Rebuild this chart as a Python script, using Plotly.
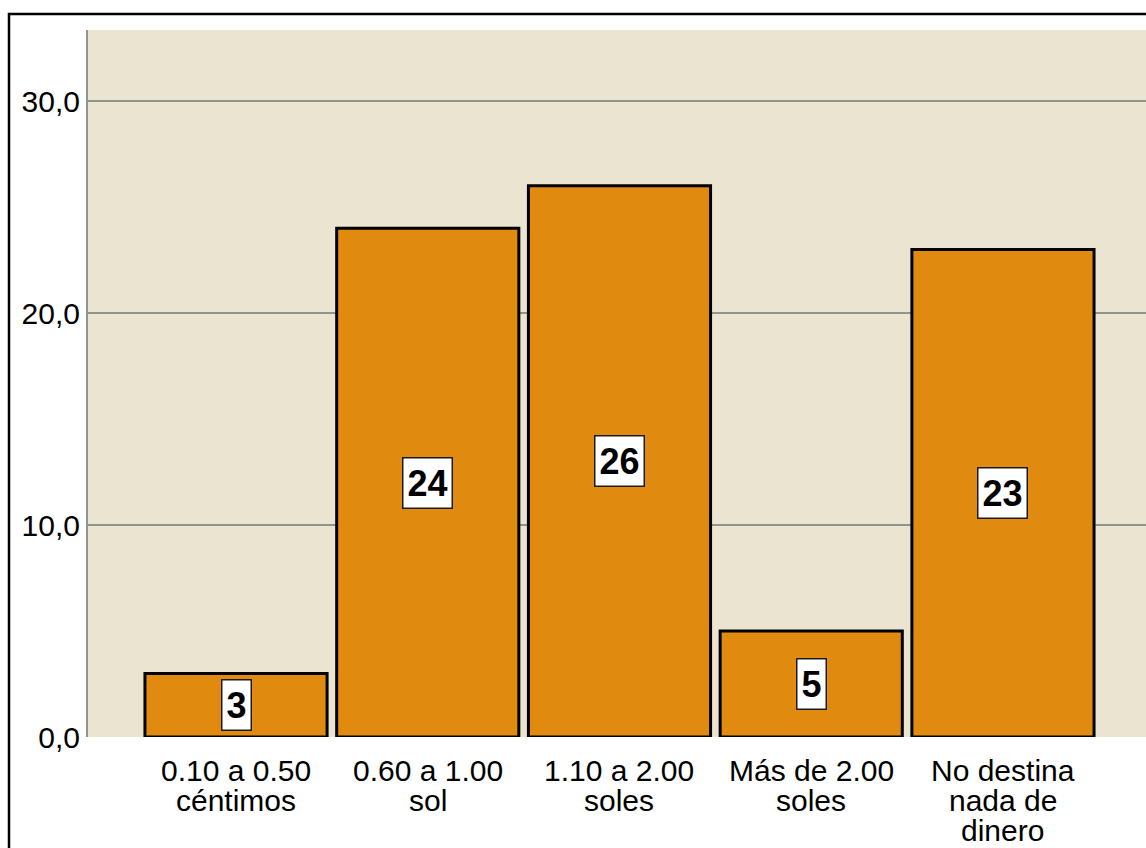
import plotly.graph_objects as go

# Money set aside categories and their percentages
categories = ["0.10 a 0.50 céntimos", "0.60 a 1.00 sol", "1.10 a 2.00 soles",
              "Más de 2.00 soles", "No destina nada de dinero"]
label_lines = [["0.10 a 0.50", "céntimos"], ["0.60 a 1.00", "sol"],
               ["1.10 a 2.00", "soles"], ["Más de 2.00", "soles"],
               ["No destina", "nada de", "dinero"]]
values = [3, 24, 26, 5, 23]
y_ticks = [0, 10, 20, 30]
y_ticktext = ["0,0", "10,0", "20,0", "30,0"]

W, H = 1146, 848
ML, MR, MT, MB = 88, 0, 30, 111

BAR = "#E08A10"
PLOT_BG = "#EAE4D0"
GRID = "#8E968C"

x_idx = list(range(len(categories)))

fig = go.Figure()
fig.add_trace(go.Bar(
    x=x_idx, y=values, width=0.95,
    marker=dict(color=BAR, line=dict(color="#000000", width=3)),
    hoverinfo="skip",
))

annotations = []
# value labels in white boxes at mid-height of each bar
for xi, v in zip(x_idx, values):
    annotations.append(dict(
        x=xi, y=v / 2, xref="x", yref="y", text=f"<b>{v}</b>", showarrow=False,
        font=dict(family="Liberation Sans Narrow, Arial Narrow, Liberation Sans, Arial",
                  size=36, color="#000000"),
        bgcolor="#FFFFFF", bordercolor="#1A1A1A", borderwidth=1.5, borderpad=4,
        xanchor="center", yanchor="middle",
    ))
# multi-line category labels with tight line spacing
for xi, lines in zip(x_idx, label_lines):
    for i, line in enumerate(lines):
        annotations.append(dict(
            x=xi, y=0, xref="x", yref="paper", text=line, showarrow=False,
            font=dict(family="Liberation Sans, Arial", size=30, color="#000000"),
            xanchor="center", yanchor="middle", yshift=-(33 + 30 * i),
        ))

plot_w = W - ML - MR
plot_h = H - MT - MB
fx = lambda px: (px - ML) / plot_w
fy = lambda py: (H - MB - py) / plot_h

fig.update_layout(
    width=W, height=H,
    margin=dict(l=ML, r=MR, t=MT, b=MB, pad=0),
    paper_bgcolor="#FFFFFF", plot_bgcolor=PLOT_BG,
    showlegend=False,
    bargap=0.05,
    annotations=annotations,
    shapes=[
        # outer frame
        dict(type="rect", xref="paper", yref="paper",
             x0=fx(9), x1=fx(1200), y0=fy(900), y1=fy(14),
             line=dict(color="#000000", width=2.5), layer="above"),
    ],
    xaxis=dict(
        range=[-0.772, 4.746], showticklabels=False, showgrid=False,
        zeroline=False, ticks="", showline=False, fixedrange=True,
    ),
    yaxis=dict(
        range=[0, 33.35], tickvals=y_ticks, ticktext=y_ticktext,
        tickfont=dict(family="Liberation Sans, Arial", size=30, color="#000000"),
        showgrid=True, gridcolor=GRID, gridwidth=2,
        zeroline=False, showline=True, linecolor=GRID, linewidth=2,
        ticks="", ticklabelstandoff=0, fixedrange=True,
    ),
)

fig.write_html("out.html")
